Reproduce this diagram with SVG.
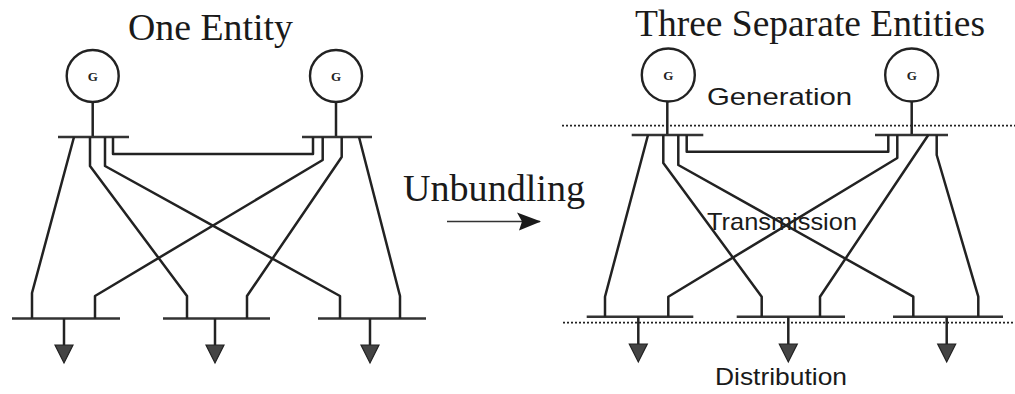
<svg xmlns="http://www.w3.org/2000/svg" width="1015" height="394" viewBox="0 0 1015 394">
<defs>
<style>
.title{font-family:"Liberation Serif","Times New Roman",serif;font-size:37px;fill:#1a1a1a}
.g{font-family:"Liberation Serif","Times New Roman",serif;font-size:13px;font-weight:bold;fill:#222;text-anchor:middle}
.lab{font-family:"Liberation Sans",Arial,sans-serif;font-size:24px;fill:#1a1a1a}
.gen{fill:#fff;stroke:#222;stroke-width:2.4}
.bus{stroke:#333;stroke-width:2.6;fill:none}
.ln{stroke:#222;stroke-width:2.5;fill:none;stroke-linejoin:round}
.dot{stroke:#222;stroke-width:1.8;stroke-dasharray:2 2;fill:none}
.load{fill:#444;stroke:#222;stroke-width:1.2}
</style>
<marker id="ah" viewBox="0 0 24 20" refX="23" refY="10" markerWidth="24" markerHeight="20" markerUnits="userSpaceOnUse" orient="auto">
<path d="M0,1 L24,10 L2,19 L5,10 Z" fill="#1a1a1a"/>
</marker>
</defs>
<rect width="1015" height="394" fill="#fff"/>

<!-- LEFT DIAGRAM -->
<g id="title-left"><text class="title" x="128" y="40" textLength="165" lengthAdjust="spacingAndGlyphs">One Entity</text></g>
<g id="gen-L1"><line class="ln" x1="92.7" y1="102" x2="92.7" y2="137"/><circle class="gen" cx="92.7" cy="76" r="26"/><text class="g" x="92.7" y="81">G</text></g>
<g id="gen-L2"><line class="ln" x1="336" y1="102" x2="336" y2="137"/><circle class="gen" cx="336" cy="76" r="26"/><text class="g" x="336" y="81">G</text></g>
<g id="bus-L1"><line class="bus" x1="58" y1="137" x2="129" y2="137"/></g>
<g id="bus-L2"><line class="bus" x1="302" y1="137" x2="372" y2="137"/></g>
<g id="bus-L3"><line class="bus" x1="12" y1="318.5" x2="120" y2="318.5"/><line class="ln" x1="64" y1="318.5" x2="64" y2="345"/><polygon class="load" points="55,345 73,345 64,363"/></g>
<g id="bus-L4"><line class="bus" x1="163" y1="318.5" x2="270" y2="318.5"/><line class="ln" x1="215" y1="318.5" x2="215" y2="345"/><polygon class="load" points="206,345 224,345 215,363"/></g>
<g id="bus-L5"><line class="bus" x1="318" y1="318.5" x2="426" y2="318.5"/><line class="ln" x1="370" y1="318.5" x2="370" y2="345"/><polygon class="load" points="361,345 379,345 370,363"/></g>
<g id="connectors-left">
<polyline class="ln" points="74,137 32,293 32,318.5"/>
<polyline class="ln" points="90,137 90,166 187,296 187,318.5"/>
<polyline class="ln" points="105,137 105,166 340,296 340,318.5"/>
<polyline class="ln" points="113,137 113,154 313,154 313,137"/>
<polyline class="ln" points="322.7,137 322.7,160 95,296 95,318.5"/>
<polyline class="ln" points="341.7,137 341.7,157 247,296 247,318.5"/>
<polyline class="ln" points="359,137 400,296 400,318.5"/>
</g>

<!-- UNBUNDLING -->
<g id="unbundling"><text class="title" x="403" y="201" textLength="182" lengthAdjust="spacingAndGlyphs">Unbundling</text></g>
<g id="connector-unbundling"><line x1="447" y1="221.5" x2="540" y2="221.5" stroke="#333" stroke-width="1.6" marker-end="url(#ah)"/></g>

<!-- RIGHT DIAGRAM -->
<g id="title-right"><text class="title" x="635" y="36" textLength="350" lengthAdjust="spacingAndGlyphs">Three Separate Entities</text></g>
<g id="zones">
<line class="dot" x1="562" y1="125.7" x2="1015" y2="125.7"/>
<line class="dot" x1="563" y1="322.7" x2="1015" y2="322.7"/>
<text class="lab" x="707" y="105" textLength="145" lengthAdjust="spacingAndGlyphs">Generation</text>
<text class="lab" x="707" y="229.5" textLength="150" lengthAdjust="spacingAndGlyphs">Transmission</text>
<text class="lab" x="715" y="385" textLength="132" lengthAdjust="spacingAndGlyphs">Distribution</text>
</g>
<g id="gen-R1"><line class="ln" x1="667.3" y1="101.7" x2="667.3" y2="135"/><circle class="gen" cx="668.3" cy="75" r="26.5"/><text class="g" x="668.3" y="80">G</text></g>
<g id="gen-R2"><line class="ln" x1="911.7" y1="101.7" x2="911.7" y2="135"/><circle class="gen" cx="911.7" cy="75" r="26.5"/><text class="g" x="911.7" y="80">G</text></g>
<g id="bus-R1"><line class="bus" x1="631.7" y1="135" x2="703.3" y2="135"/></g>
<g id="bus-R2"><line class="bus" x1="875" y1="135" x2="948" y2="135"/></g>
<g id="bus-R3"><line class="bus" x1="586.7" y1="316.7" x2="693.3" y2="316.7"/><line class="ln" x1="638.3" y1="316.7" x2="638.3" y2="344"/><polygon class="load" points="629.3,344 647.3,344 638.3,362"/></g>
<g id="bus-R4"><line class="bus" x1="736.7" y1="316.7" x2="845" y2="316.7"/><line class="ln" x1="788.3" y1="316.7" x2="788.3" y2="344"/><polygon class="load" points="779.3,344 797.3,344 788.3,362"/></g>
<g id="bus-R5"><line class="bus" x1="893" y1="316.7" x2="1003" y2="316.7"/><line class="ln" x1="946.7" y1="316.7" x2="946.7" y2="344"/><polygon class="load" points="937.7,344 955.7,344 946.7,362"/></g>
<g id="connectors-right">
<polyline class="ln" points="648,135 605,296.7 605,316.7"/>
<polyline class="ln" points="663.3,135 663.3,163 761.7,296.7 761.7,316.7"/>
<polyline class="ln" points="678.3,135 678.3,165 913.3,296.7 913.3,316.7"/>
<polyline class="ln" points="686.7,135 686.7,151.7 888.3,151.7 888.3,135"/>
<polyline class="ln" points="897.3,135 897.3,158 668.3,296.7 668.3,316.7"/>
<polyline class="ln" points="928.3,135 820,296.7 820,316.7"/>
<polyline class="ln" points="936.7,135 936.7,155 978.3,296.7 978.3,316.7"/>
</g>
</svg>
